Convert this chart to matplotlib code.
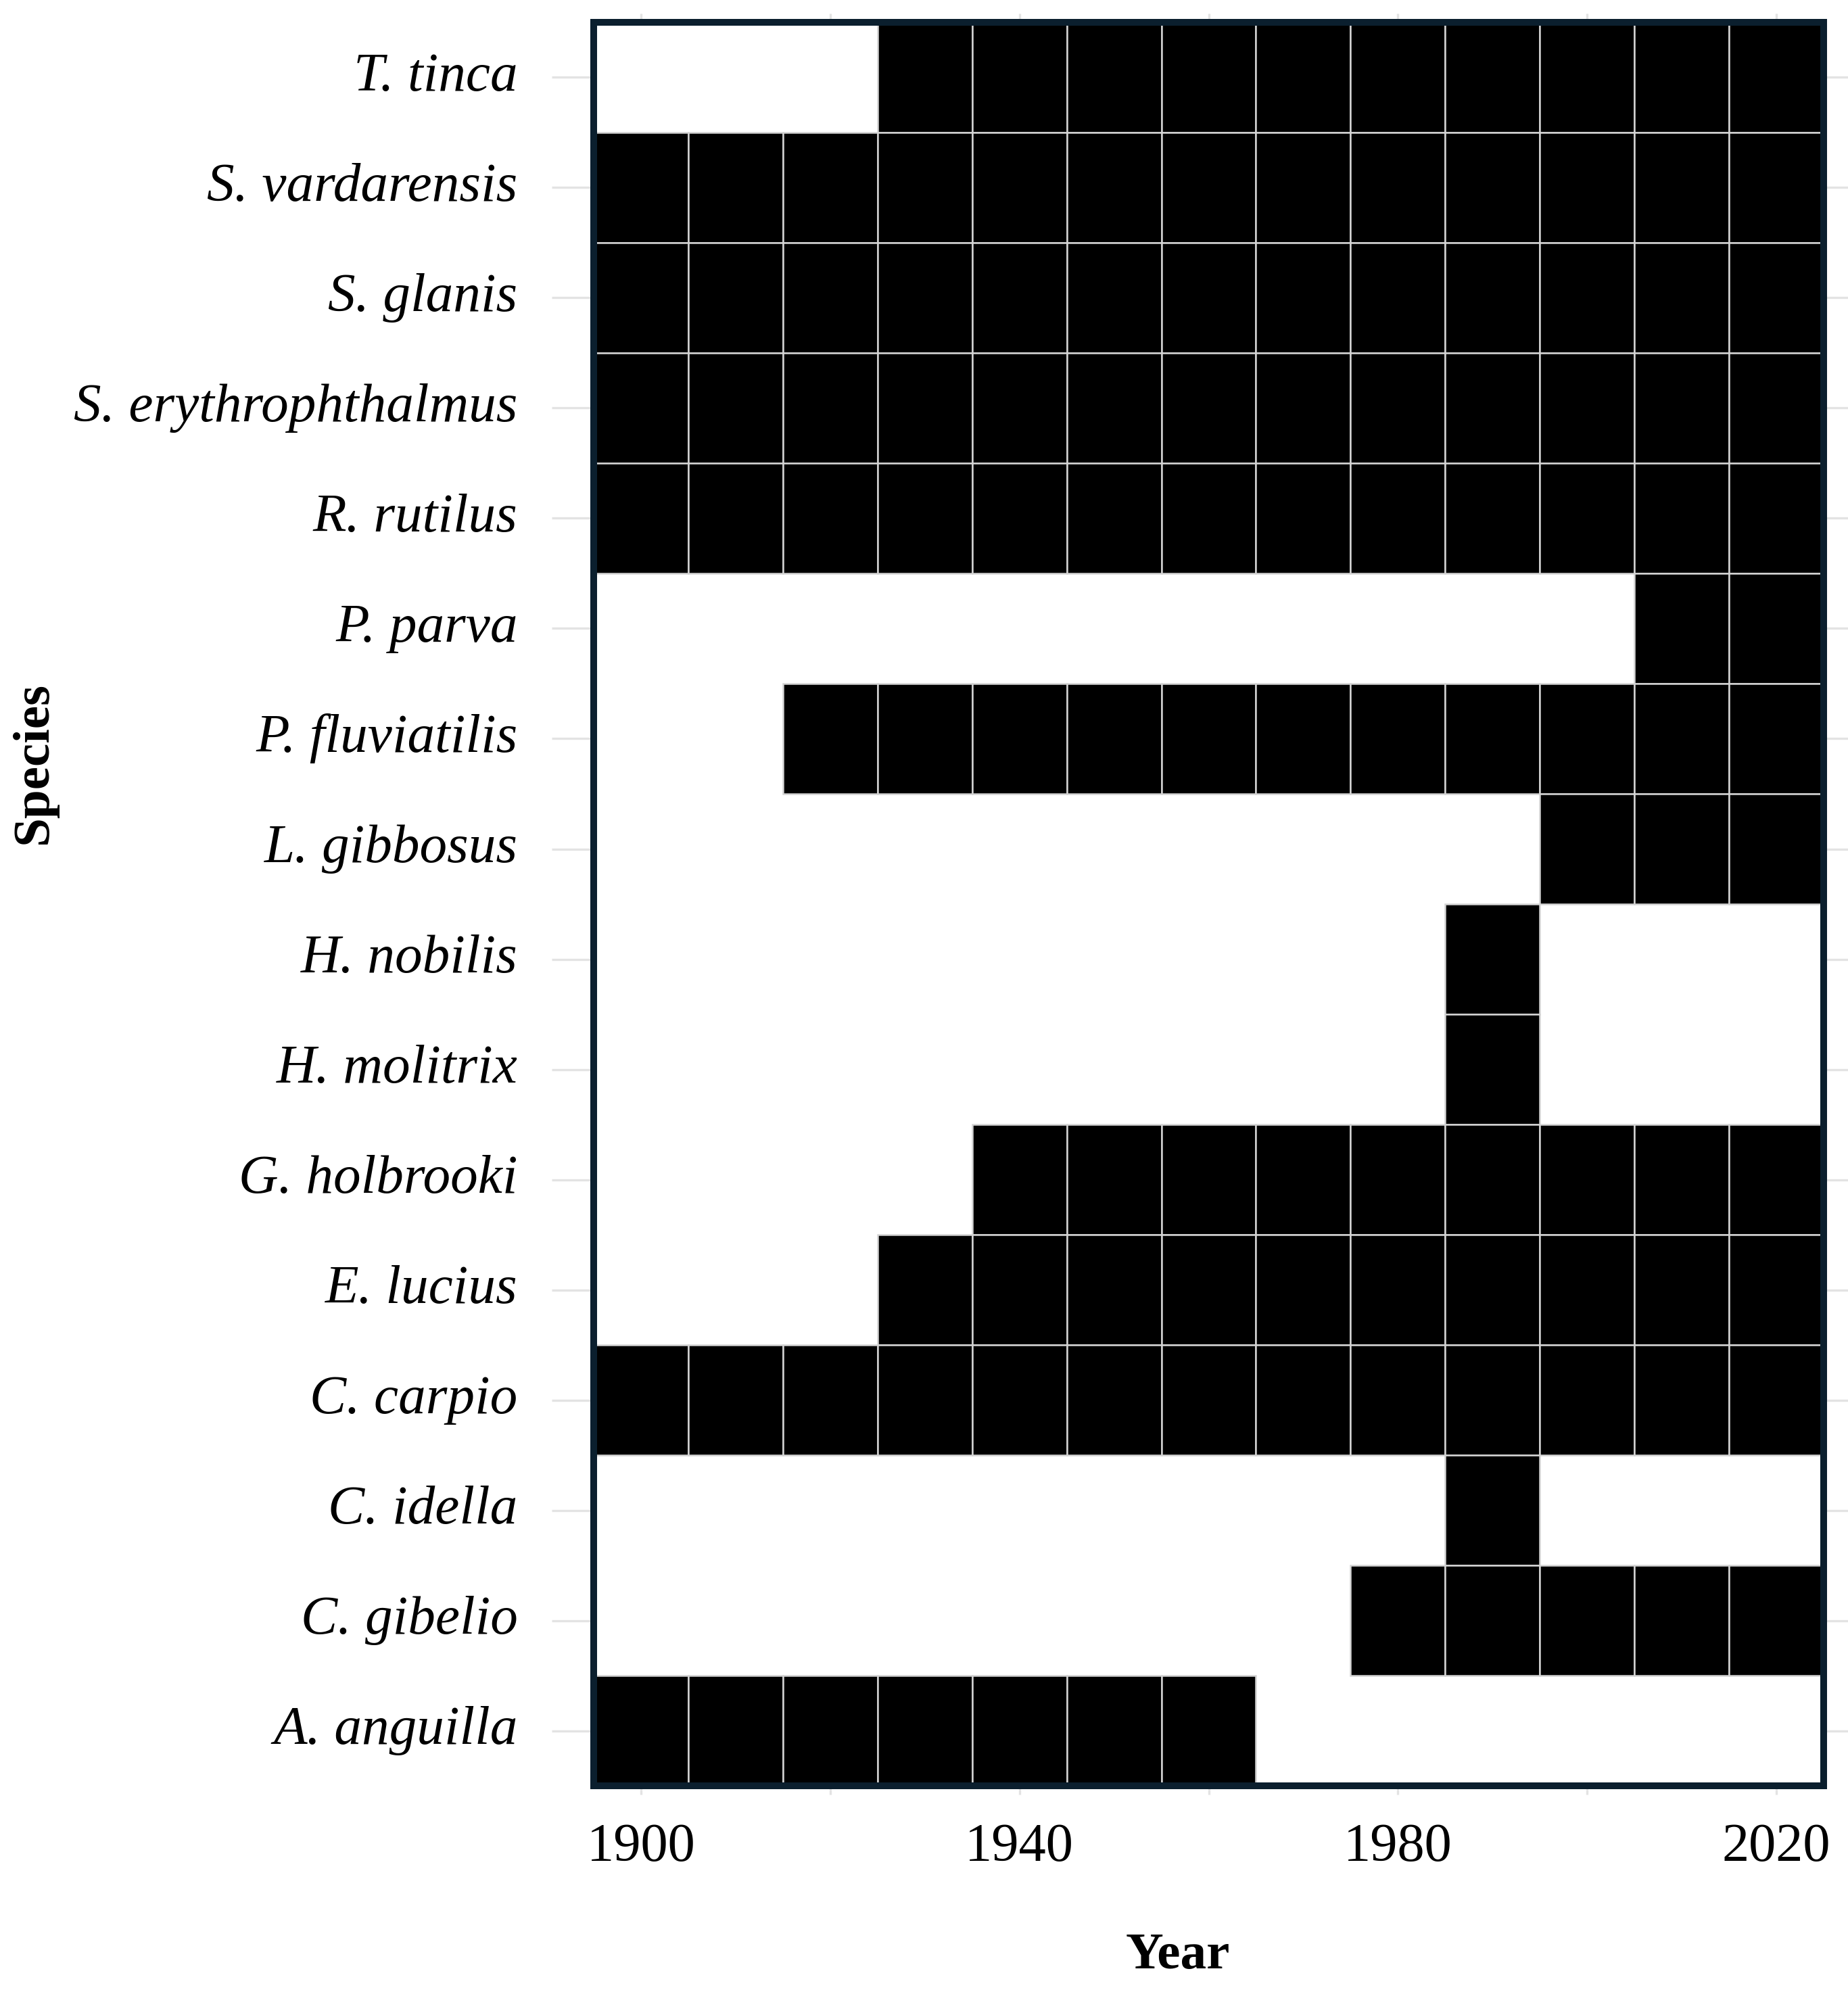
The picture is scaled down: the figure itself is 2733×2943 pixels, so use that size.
import matplotlib
matplotlib.use("Agg")
import matplotlib.pyplot as plt

# species, top to bottom as in the chart
species = [
    "T. tinca", "S. vardarensis", "S. glanis", "S. erythrophthalmus",
    "R. rutilus", "P. parva", "P. fluviatilis", "L. gibbosus",
    "H. nobilis", "H. molitrix", "G. holbrooki", "E. lucius",
    "C. carpio", "C. idella", "C. gibelio", "A. anguilla",
]
years = [1900, 1910, 1920, 1930, 1940, 1950, 1960, 1970, 1980, 1990, 2000, 2010, 2020]

# 1 = recorded in that decade, rows follow `species`
presence = [
    [0, 0, 0, 1, 1, 1, 1, 1, 1, 1, 1, 1, 1],  # T. tinca
    [1, 1, 1, 1, 1, 1, 1, 1, 1, 1, 1, 1, 1],  # S. vardarensis
    [1, 1, 1, 1, 1, 1, 1, 1, 1, 1, 1, 1, 1],  # S. glanis
    [1, 1, 1, 1, 1, 1, 1, 1, 1, 1, 1, 1, 1],  # S. erythrophthalmus
    [1, 1, 1, 1, 1, 1, 1, 1, 1, 1, 1, 1, 1],  # R. rutilus
    [0, 0, 0, 0, 0, 0, 0, 0, 0, 0, 0, 1, 1],  # P. parva
    [0, 0, 1, 1, 1, 1, 1, 1, 1, 1, 1, 1, 1],  # P. fluviatilis
    [0, 0, 0, 0, 0, 0, 0, 0, 0, 0, 1, 1, 1],  # L. gibbosus
    [0, 0, 0, 0, 0, 0, 0, 0, 0, 1, 0, 0, 0],  # H. nobilis
    [0, 0, 0, 0, 0, 0, 0, 0, 0, 1, 0, 0, 0],  # H. molitrix
    [0, 0, 0, 0, 1, 1, 1, 1, 1, 1, 1, 1, 1],  # G. holbrooki
    [0, 0, 0, 1, 1, 1, 1, 1, 1, 1, 1, 1, 1],  # E. lucius
    [1, 1, 1, 1, 1, 1, 1, 1, 1, 1, 1, 1, 1],  # C. carpio
    [0, 0, 0, 0, 0, 0, 0, 0, 0, 1, 0, 0, 0],  # C. idella
    [0, 0, 0, 0, 0, 0, 0, 0, 1, 1, 1, 1, 1],  # C. gibelio
    [1, 1, 1, 1, 1, 1, 1, 0, 0, 0, 0, 0, 0],  # A. anguilla
]
year_ticks = [1900, 1940, 1980, 2020]
minor_ticks = [1920, 1960, 2000]

plt.rcParams["font.family"] = ["Liberation Serif", "DejaVu Serif"]

fig = plt.figure(figsize=(2733 / 300, 2943 / 300), dpi=300)
ax = fig.add_axes([0.3213, 0.1026, 0.6655, 0.8862])

n = len(species)
for i, row in enumerate(presence):
    ypos = n - 1 - i
    for year, v in zip(years, row):
        if v:
            ax.bar(year, 1, width=10, bottom=ypos - 0.5, color="black",
                   edgecolor="#d4d4d4", linewidth=0.6, zorder=2)

ax.set_xlim(1895, 2025)
ax.set_ylim(-0.5, n - 0.5)

ax.set_yticks(range(n))
ax.set_yticklabels(species[::-1], fontstyle="italic", fontsize=19.5,
                   va="center")
ax.set_xticks(year_ticks)
ax.set_xticks(minor_ticks, minor=True)
ax.set_xticklabels([str(y) for y in year_ticks], fontsize=19.3)

ax.tick_params(axis="y", which="major", length=15, width=0.8, color="#e3e3e3",
               pad=12, right=True)
ax.tick_params(axis="x", which="both", length=3.2, width=0.8, color="#e3e3e3",
               pad=10, top=True)

for s in ax.spines.values():
    s.set_color("#0b1f2e")
    s.set_linewidth(2.4)
    s.set_zorder(5)

ax.set_xlabel("Year", fontsize=18.5, fontweight="bold", labelpad=22)
ax.set_ylabel("Species", fontsize=18.5, fontweight="bold")
ax.xaxis.set_label_coords(0.475, -0.083)
ax.yaxis.set_label_coords(-0.436, 0.58)

fig.savefig("out.png", dpi=300, facecolor="white")
